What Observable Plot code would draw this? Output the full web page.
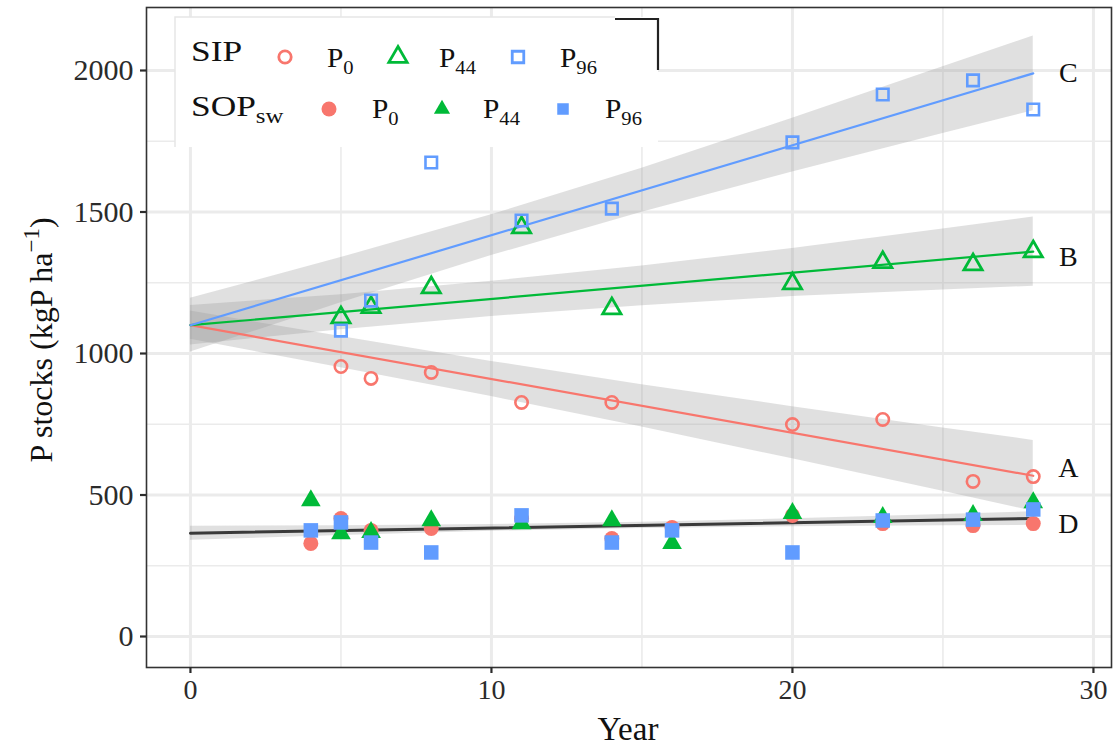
<!DOCTYPE html>
<html><head><meta charset="utf-8">
<script src="https://cdn.jsdelivr.net/npm/d3@7"></script>
<script src="https://cdn.jsdelivr.net/npm/@observablehq/plot@0.6"></script>
<style>
body{margin:0;background:#fff;}
#chart{position:relative;width:1114px;height:749px;}
</style></head><body><div id="chart"></div>
<script>
// ---- data ----
const sipYears = [5, 6, 8, 11, 14, 20, 23, 26, 28];
const sipP0  = [954, 912, 933, 827, 827, 749, 767, 548, 565];
const sipP44 = [1127, 1163, 1233, 1445, 1159, 1247, 1322, 1314, 1360];
const sipP96 = [1081, 1187, 1675, 1470, 1512, 1746, 1915, 1965, 1862];

const sopYears = [4, 5, 6, 8, 11, 14, 16, 20, 23, 26, 28];
const sopP0  = [329, 417, 375, 382, 417, 346, 385, 428, 399, 392, 399];
const sopP44 = [480, 364, 368, 410, 399, 410, 329, 435, 421, 428, 473];
const sopP96 = [375, 403, 332, 297, 428, 332, 375, 297, 410, 413, 449];

const fitYears = [0, 28];
const fitA = [1100, 568];
const fitB = [1100, 1360];
const fitC = [1100, 1990];
const fitD = [365, 417];

const bandYears = [0, 5, 10, 15, 20, 25, 28];
const bandA_lo = [1050, 950, 848, 740, 628, 513, 443];
const bandA_hi = [1150, 1060, 972, 890, 812, 737, 693];
const bandB_lo = [1030, 1084, 1131, 1169, 1201, 1224, 1238];
const bandB_hi = [1170, 1208, 1255, 1309, 1371, 1440, 1482];
const bandC_lo = [1005, 1179, 1346, 1499, 1641, 1777, 1858];
const bandC_hi = [1195, 1339, 1490, 1655, 1831, 2013, 2122];
const bandD_lo = [340, 357, 372, 382, 388, 391, 393];
const bandD_hi = [390, 391, 396, 404, 416, 431, 441];

const curveLabels = ["A", "B", "C", "D"];
const curveLabelY = [594, 1340, 1990, 396];

const xTicks = [0, 10, 20, 30];
const xMinor = [5, 15, 25];
const yTicks = [0, 500, 1000, 1500, 2000];
const yMinor = [250, 750, 1250, 1750];

const groups = ["P0", "P44", "P96"];
const colors = ["#F8766D", "#00BA38", "#619CFF"];

// ---- build tables ----
const rows = (years, vals) => years.map((x, i) => ({x, y: vals[i]}));
const bandRows = (lo, hi) => bandYears.map((x, i) => ({x, lo: lo[i], hi: hi[i]}));
const font = "'Liberation Serif','Times New Roman',serif";

const grid = {stroke: "#ebebeb", strokeOpacity: 1};
const bandStyle = {x: "x", y1: "lo", y2: "hi", fill: "#999999", fillOpacity: 0.3};

const plot = Plot.plot({
  width: 1114, height: 749,
  marginLeft: 146, marginRight: 3, marginTop: 7, marginBottom: 82,
  x: {domain: [-1.46, 30.6]},
  y: {domain: [-109.5, 2222.6]},
  style: {fontFamily: font, fontSize: "28px", color: "#2b2b2b", background: "#fff"},
  marks: [
    Plot.gridX(xMinor, {...grid, strokeWidth: 1.6}),
    Plot.gridY(yMinor, {...grid, strokeWidth: 1.6}),
    Plot.gridX(xTicks, {...grid, strokeWidth: 3}),
    Plot.gridY(yTicks, {...grid, strokeWidth: 3}),
    Plot.areaY(bandRows(bandA_lo, bandA_hi), bandStyle),
    Plot.areaY(bandRows(bandB_lo, bandB_hi), bandStyle),
    Plot.areaY(bandRows(bandC_lo, bandC_hi), bandStyle),
    Plot.areaY(bandRows(bandD_lo, bandD_hi), bandStyle),
    Plot.line(rows(fitYears, fitA), {x: "x", y: "y", stroke: colors[0], strokeWidth: 2.2}),
    Plot.line(rows(fitYears, fitB), {x: "x", y: "y", stroke: colors[1], strokeWidth: 2.2}),
    Plot.line(rows(fitYears, fitC), {x: "x", y: "y", stroke: colors[2], strokeWidth: 2.2}),
    Plot.line(rows(fitYears, fitD), {x: "x", y: "y", stroke: "#3a3a3a", strokeWidth: 3}),
    // SOPsw filled
    Plot.dot(rows(sopYears, sopP0),  {x: "x", y: "y", symbol: "circle", r: 7.5, fill: colors[0]}),
    Plot.dot(rows(sopYears, sopP44), {x: "x", y: "y", symbol: "triangle", r: 7.3, fill: colors[1]}),
    Plot.dot(rows(sopYears, sopP96), {x: "x", y: "y", symbol: "square", r: 8.2, fill: colors[2]}),
    // SIP open
    Plot.dot(rows(sipYears, sipP0),  {x: "x", y: "y", symbol: "circle", r: 6.2, fill: "none", stroke: colors[0], strokeWidth: 2.6}),
    Plot.dot(rows(sipYears, sipP44), {x: "x", y: "y", symbol: "triangle", r: 6.8, fill: "none", stroke: colors[1], strokeWidth: 2.8}),
    Plot.dot(rows(sipYears, sipP96), {x: "x", y: "y", symbol: "square", r: 6.5, fill: "none", stroke: colors[2], strokeWidth: 2.6}),
    Plot.text(curveLabels.map((t, i) => ({t, y: curveLabelY[i]})),
      {x: () => fitYears[fitYears.length - 1], y: "y", text: "t", dx: 35, fontSize: 28, fill: "#111", textAnchor: "middle"}),
    Plot.frame({stroke: "#333", strokeWidth: 1.6}),
    Plot.axisX(xTicks, {tickSize: 6, tickPadding: 6, strokeWidth: 2.2, label: null, fontSize: 28, tickFormat: d => String(d)}),
    Plot.axisY(yTicks, {tickSize: 6, tickPadding: 7, strokeWidth: 2.2, label: null, fontSize: 30, tickFormat: d => String(d)})
  ]
});
document.getElementById("chart").appendChild(plot);

// ---- axis titles and legend (drawn into the same SVG) ----
const svg = d3.select(plot);
const yl = svg.append("text")
  .attr("transform", "translate(52,340) rotate(-90)")
  .attr("text-anchor", "middle").attr("font-family", font).attr("font-size", 32).attr("fill", "#111");
yl.append("tspan").text("P stocks (kgP ha");
yl.append("tspan").attr("dy", -13).attr("font-size", 23).text("\u22121");
yl.append("tspan").attr("dy", 13).text(")");

svg.append("text").attr("x", 628).attr("y", 740).attr("text-anchor", "middle")
  .attr("font-family", font).attr("font-size", 33).attr("fill", "#111").text("Year");

const lg = svg.append("g").attr("font-family", font).attr("fill", "#111").attr("text-anchor", "start");
lg.append("rect").attr("x", 175).attr("y", 17).attr("width", 483).attr("height", 130).attr("fill", "#fff");
lg.append("path").attr("d", "M175,147V17H615").attr("fill", "none").attr("stroke", "#e6e6e6").attr("stroke-width", 1.5);
lg.append("path").attr("d", "M615,19H658V70").attr("fill", "none").attr("stroke", "#222").attr("stroke-width", 2.2);

function label(x, y, main, sub, size, sx) {
  const t = lg.append("text").attr("transform", `translate(${x},${y}) scale(${sx},1)`)
    .attr("font-size", size).attr("text-anchor", "start");
  t.append("tspan").text(main);
  if (sub) t.append("tspan").attr("dy", 7).attr("font-size", size * 0.7).text(sub);
}
const sym = (type, r) => d3.symbol(type, r * r * Math.PI)();
const row1 = 57, row2 = 109;
label(191, 61, "SIP", "", 29, 1.22);
label(191, 116, "SOP", "sw", 29, 1.22);
const subs = ["0", "44", "96"];
const openX = [285, 398, 518], openTxt = [327, 439, 560];
const fillX = [329, 442, 563], fillTxt = [372, 483, 605];
const types = [d3.symbolCircle, d3.symbolTriangle, d3.symbolSquare];
const openR = [6.2, 6.8, 6.5], fillR = [7.5, 6.0, 6.5];
groups.forEach((g, i) => {
  lg.append("path").attr("transform", `translate(${openX[i]},${row1})`).attr("d", sym(types[i], openR[i]))
    .attr("fill", "none").attr("stroke", colors[i]).attr("stroke-width", 2.8);
  label(openTxt[i], 67, "P", subs[i], 28, 1.05);
  lg.append("path").attr("transform", `translate(${fillX[i]},${row2})`).attr("d", sym(types[i], fillR[i]))
    .attr("fill", colors[i]);
  label(fillTxt[i], 118, "P", subs[i], 28, 1.05);
});
</script></body></html>
